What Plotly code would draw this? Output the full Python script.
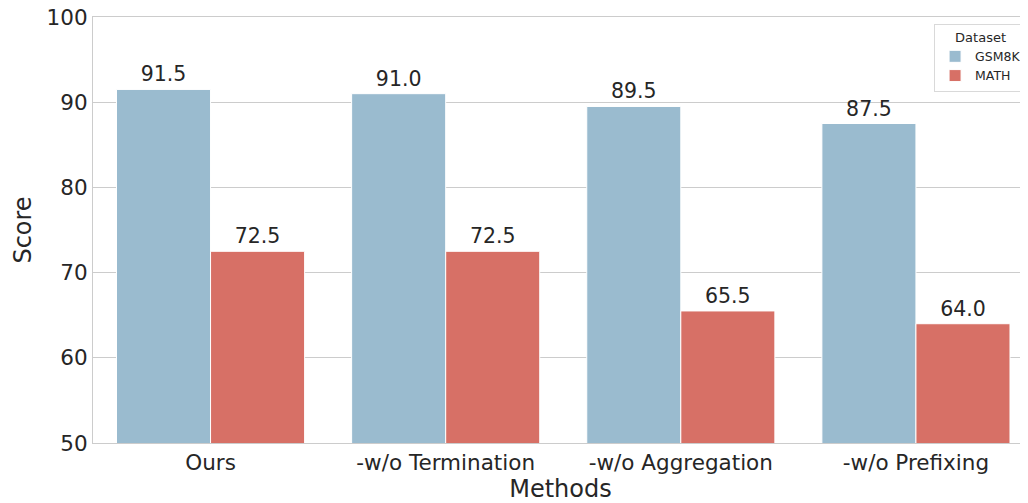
import plotly.graph_objects as go

methods = ["Ours", "-w/o Termination", "-w/o Aggregation", "-w/o Prefixing"]
gsm8k = [91.5, 91.0, 89.5, 87.5]
math_scores = [72.5, 72.5, 65.5, 64.0]
series_names = ["GSM8K", "MATH"]
colors = ["#9abbcf", "#d77066"]

fig = go.Figure()
for name, vals, col in zip(series_names, [gsm8k, math_scores], colors):
    fig.add_trace(go.Bar(
        x=methods, y=vals, name=name,
        marker=dict(color=col, line=dict(color="white", width=1)),
        text=[f"{v:.1f}" for v in vals], textposition="outside",
        textfont=dict(size=20.5, color="#262626"), cliponaxis=False,
    ))

font = "DejaVu Sans"
fig.update_layout(
    width=1020, height=495,
    margin=dict(l=85, r=0, t=9, b=60),
    paper_bgcolor="white", plot_bgcolor="white",
    font=dict(family=font, color="#262626"),
    barmode="group", bargap=0.2, bargroupgap=0,
    xaxis=dict(
        range=[-0.5, 3.4766], showgrid=False, showline=True, linecolor="#cccccc",
        linewidth=1.2, mirror=True, ticks="", tickfont=dict(size=21.5),
        title=dict(text="Methods", font=dict(size=24), standoff=6),
    ),
    yaxis=dict(
        range=[50, 100], tickvals=[50, 60, 70, 80, 90, 100], showgrid=True,
        gridcolor="#cccccc", gridwidth=1, showline=True, linecolor="#cccccc",
        linewidth=1.2, mirror=True, ticks="", tickfont=dict(size=21.5),
        ticklabeloverflow="allow", automargin="left",
        title=dict(text="Score", font=dict(size=24), standoff=8), zeroline=False,
    ),
    legend=dict(
        x=0.999, y=0.984, xanchor="right", yanchor="top",
        bordercolor="#d9d9d9", borderwidth=1, bgcolor="white",
        font=dict(size=12.5), title=dict(text="Dataset", side="top center", font=dict(size=13)),
        tracegroupgap=0, itemwidth=30,
    ),
)
fig.write_html("out.html")
